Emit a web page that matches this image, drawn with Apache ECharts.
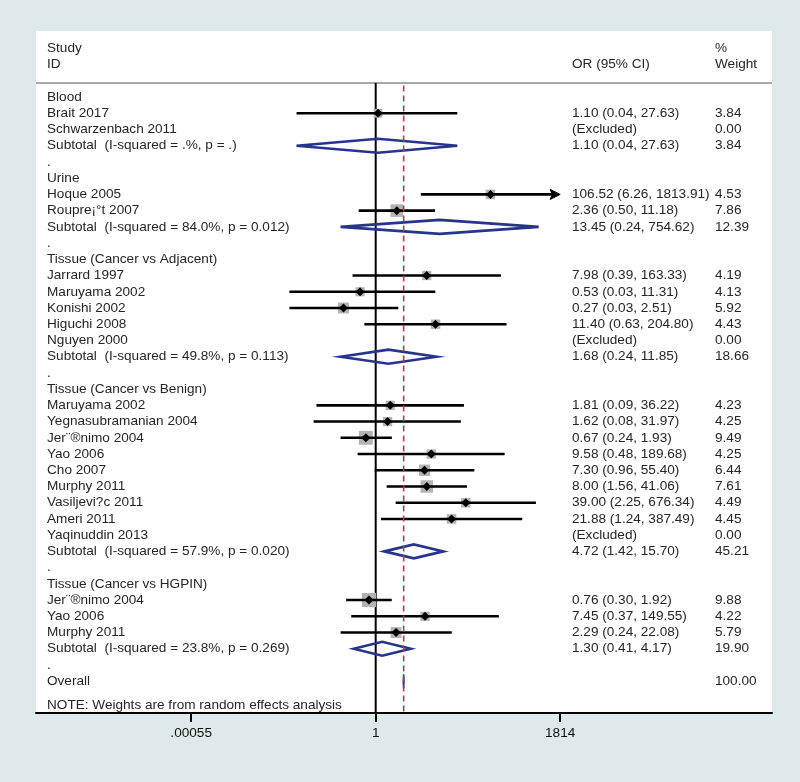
<!DOCTYPE html>
<html><head><meta charset="utf-8">
<script src="https://cdn.jsdelivr.net/npm/echarts@6/dist/echarts.min.js"></script>
<style>html,body{margin:0;padding:0;background:#dee9ec}#c{width:800px;height:782px}</style>
</head><body><div id="c"></div>
<script>
// ---------- data ----------
const rowLabels = [
  'Blood','Brait 2017','Schwarzenbach 2011','Subtotal  (I-squared = .%, p = .)','.',
  'Urine','Hoque 2005','Roupre\u00a1\u00b0t 2007','Subtotal  (I-squared = 84.0%, p = 0.012)','.',
  'Tissue (Cancer vs Adjacent)','Jarrard 1997','Maruyama 2002','Konishi 2002','Higuchi 2008','Nguyen 2000','Subtotal  (I-squared = 49.8%, p = 0.113)','.',
  'Tissue (Cancer vs Benign)','Maruyama 2002','Yegnasubramanian 2004','Jer\u00a8\u00aenimo 2004','Yao 2006','Cho 2007','Murphy 2011','Vasiljevi?c 2011','Ameri 2011','Yaqinuddin 2013','Subtotal  (I-squared = 57.9%, p = 0.020)','.',
  'Tissue (Cancer vs HGPIN)','Jer\u00a8\u00aenimo 2004','Yao 2006','Murphy 2011','Subtotal  (I-squared = 23.8%, p = 0.269)','.',
  'Overall'
];
const rowKinds = [
  'head','study','excl','sub','gap',
  'head','study','study','sub','gap',
  'head','study','study','study','study','excl','sub','gap',
  'head','study','study','study','study','study','study','study','study','excl','sub','gap',
  'head','study','study','study','sub','gap',
  'overall'
];
const orValues = [
  null,1.10,null,1.10,null,
  null,106.52,2.36,13.45,null,
  null,7.98,0.53,0.27,11.40,null,1.68,null,
  null,1.81,1.62,0.67,9.58,7.30,8.00,39.00,21.88,null,4.72,null,
  null,0.76,7.45,2.29,1.30,null,
  3.12
];
const ciLower = [
  null,0.04,null,0.04,null,
  null,6.26,0.50,0.24,null,
  null,0.39,0.03,0.03,0.63,null,0.24,null,
  null,0.09,0.08,0.24,0.48,0.96,1.56,2.25,1.24,null,1.42,null,
  null,0.30,0.37,0.24,0.41,null,
  3.07
];
const ciUpper = [
  null,27.63,null,27.63,null,
  null,1813.91,11.18,754.62,null,
  null,163.33,11.31,2.51,204.80,null,11.85,null,
  null,36.22,31.97,1.93,189.68,55.40,41.06,676.34,387.49,null,15.70,null,
  null,1.92,149.55,22.08,4.17,null,
  3.17
];
const weights = [
  null,3.84,0.00,3.84,null,
  null,4.53,7.86,12.39,null,
  null,4.19,4.13,5.92,4.43,0.00,18.66,null,
  null,4.23,4.25,9.49,4.25,6.44,7.61,4.49,4.45,0.00,45.21,null,
  null,9.88,4.22,5.79,19.90,null,
  100.00
];
const ciTexts = [
  '','1.10 (0.04, 27.63)','(Excluded)','1.10 (0.04, 27.63)','',
  '','106.52 (6.26, 1813.91)','2.36 (0.50, 11.18)','13.45 (0.24, 754.62)','',
  '','7.98 (0.39, 163.33)','0.53 (0.03, 11.31)','0.27 (0.03, 2.51)','11.40 (0.63, 204.80)','(Excluded)','1.68 (0.24, 11.85)','',
  '','1.81 (0.09, 36.22)','1.62 (0.08, 31.97)','0.67 (0.24, 1.93)','9.58 (0.48, 189.68)','7.30 (0.96, 55.40)','8.00 (1.56, 41.06)','39.00 (2.25, 676.34)','21.88 (1.24, 387.49)','(Excluded)','4.72 (1.42, 15.70)','',
  '','0.76 (0.30, 1.92)','7.45 (0.37, 149.55)','2.29 (0.24, 22.08)','1.30 (0.41, 4.17)','',
  ''
];
const weightTexts = [
  '','3.84','0.00','3.84','',
  '','4.53','7.86','12.39','',
  '','4.19','4.13','5.92','4.43','0.00','18.66','',
  '','4.23','4.25','9.49','4.25','6.44','7.61','4.49','4.45','0.00','45.21','',
  '','9.88','4.22','5.79','19.90','',
  '100.00'
];
const arrowRows = [6];
const overallOR = 3.12;
const tickValues = [0.00055, 1, 1814];
const tickLabels = ['.00055', '1', '1814'];
const headerLeft = ['Study', 'ID'];
const headerOR = 'OR (95% CI)';
const headerWeight = ['%', 'Weight'];
const noteText = 'NOTE: Weights are from random effects analysis';

// ---------- layout / style ----------
const FONT = '"Liberation Sans", Arial, sans-serif';
const FS = 13.6;
const TXT = '#262626';
const NAVY = '#27348b';
const xMinOR = 1e-6, xMaxOR = 1e7;
const yMin = -4.07, yMax = 37.96;
const sepRow = -0.863;
const colLeftPx = 47, colORPx = 572, colWtPx = 715;
const ln = Math.log;

// text items
const textItems = [];
textItems.push({x: colLeftPx, row: -3, t: headerLeft[0]});
textItems.push({x: colLeftPx, row: -2, t: headerLeft[1]});
textItems.push({x: colORPx, row: -2, t: headerOR});
textItems.push({x: colWtPx, row: -3, t: headerWeight[0]});
textItems.push({x: colWtPx, row: -2, t: headerWeight[1]});
rowLabels.forEach((s, i) => {
  textItems.push({x: colLeftPx, row: i, t: s});
  if (ciTexts[i]) textItems.push({x: colORPx, row: i, t: ciTexts[i]});
  if (weightTexts[i]) textItems.push({x: colWtPx, row: i, t: weightTexts[i]});
});
textItems.push({x: colLeftPx, row: 37.5, t: noteText});

function renderMark(params, api) {
  const i = params.dataIndex;
  const kind = rowKinds[i];
  const children = [];
  if (kind === 'study') {
    const p = api.coord([ln(orValues[i]), i]);
    const pl = api.coord([ln(ciLower[i]), i]);
    const hiV = Math.min(ciUpper[i], tickValues[2]);
    const ph = api.coord([ln(hiV), i]);
    const side = 4.5 * Math.sqrt(weights[i]);
    children.push({type: 'rect', shape: {x: p[0] - side / 2, y: p[1] - side / 2, width: side, height: side},
      style: {fill: '#b3b3b3'}});
    const isArrow = arrowRows.indexOf(i) >= 0;
    const endX = isArrow ? ph[0] - 8 : ph[0];
    children.push({type: 'line', shape: {x1: pl[0], y1: p[1], x2: endX, y2: p[1]},
      style: {stroke: '#000', lineWidth: 2.6}});
    if (isArrow) {
      children.push({type: 'polygon', shape: {points: [[ph[0], p[1]], [ph[0] - 10, p[1] - 5], [ph[0] - 8, p[1]], [ph[0] - 10, p[1] + 5]]},
        style: {fill: '#000', stroke: '#000', lineWidth: 1}});
    }
    const d = 4.5;
    children.push({type: 'polygon', shape: {points: [[p[0], p[1] - d], [p[0] + d, p[1]], [p[0], p[1] + d], [p[0] - d, p[1]]]},
      style: {fill: '#000'}});
  } else if (kind === 'sub' || kind === 'overall') {
    const p = api.coord([ln(orValues[i]), i]);
    const pl = api.coord([ln(ciLower[i]), i]);
    const ph = api.coord([ln(ciUpper[i]), i]);
    const h = 7;
    children.push({type: 'polygon', shape: {points: [[pl[0], p[1]], [p[0], p[1] - h], [ph[0], p[1]], [p[0], p[1] + h]]},
      style: {fill: 'none', stroke: NAVY, lineWidth: kind === 'overall' ? 1.5 : 2.6, lineJoin: 'miter'}});
  }
  return {type: 'group', children: children};
}

function renderText(params, api) {
  const it = textItems[params.dataIndex];
  const p = api.coord([0, it.row]);
  return {type: 'text', x: it.x, y: p[1],
    style: {text: it.t, fill: TXT, font: FS + 'px ' + FONT, textAlign: 'left', textVerticalAlign: 'middle'}};
}

const chart = echarts.init(document.getElementById('c'), null, {renderer: 'canvas'});
chart.setOption({
  animation: false,
  backgroundColor: '#dee9ec',
  grid: {left: 36, right: 28, top: 31, bottom: 69, show: true, backgroundColor: '#ffffff', borderWidth: 0,
    containLabel: false, outerBoundsMode: 'none'},
  xAxis: {
    type: 'value', min: ln(xMinOR), max: ln(xMaxOR),
    splitLine: {show: false},
    axisLine: {show: true, onZero: false, lineStyle: {color: '#000', width: 2}},
    axisTick: {show: true, inside: false, length: 9, lineStyle: {color: '#000', width: 2},
      customValues: tickValues.map(v => ln(v))},
    axisLabel: {show: true, margin: 13, color: '#111', fontSize: 13.6, fontFamily: FONT,
      customValues: tickValues.map(v => ln(v)),
      formatter: function (val) {
        let best = 0, bd = Infinity;
        tickValues.forEach((t, k) => { const d = Math.abs(ln(t) - val); if (d < bd) { bd = d; best = k; } });
        return tickLabels[best];
      }}
  },
  yAxis: {type: 'value', inverse: true, min: yMin, max: yMax, show: false, splitLine: {show: false}},
  series: [
    {type: 'line', symbol: 'none', silent: true, z: 1,
      data: [[ln(xMinOR), sepRow], [ln(xMaxOR), sepRow]], lineStyle: {color: '#a8a8a8', width: 2}},
    {type: 'line', symbol: 'none', silent: true, z: 2,
      data: [[0, sepRow], [0, yMax]], lineStyle: {color: '#000', width: 2}},
    {type: 'custom', renderItem: renderMark, z: 3, silent: true,
      data: rowLabels.map((_, i) => [0, i])},
    {type: 'line', symbol: 'none', silent: true, z: 4,
      data: [[ln(overallOR), sepRow + 0.15], [ln(overallOR), yMax]],
      lineStyle: {color: '#a8404a', width: 1.6, type: [6, 4]}},
    {type: 'custom', renderItem: renderText, z: 5, silent: true,
      data: textItems.map(t => [0, t.row])}
  ]
});
</script>
</body></html>
